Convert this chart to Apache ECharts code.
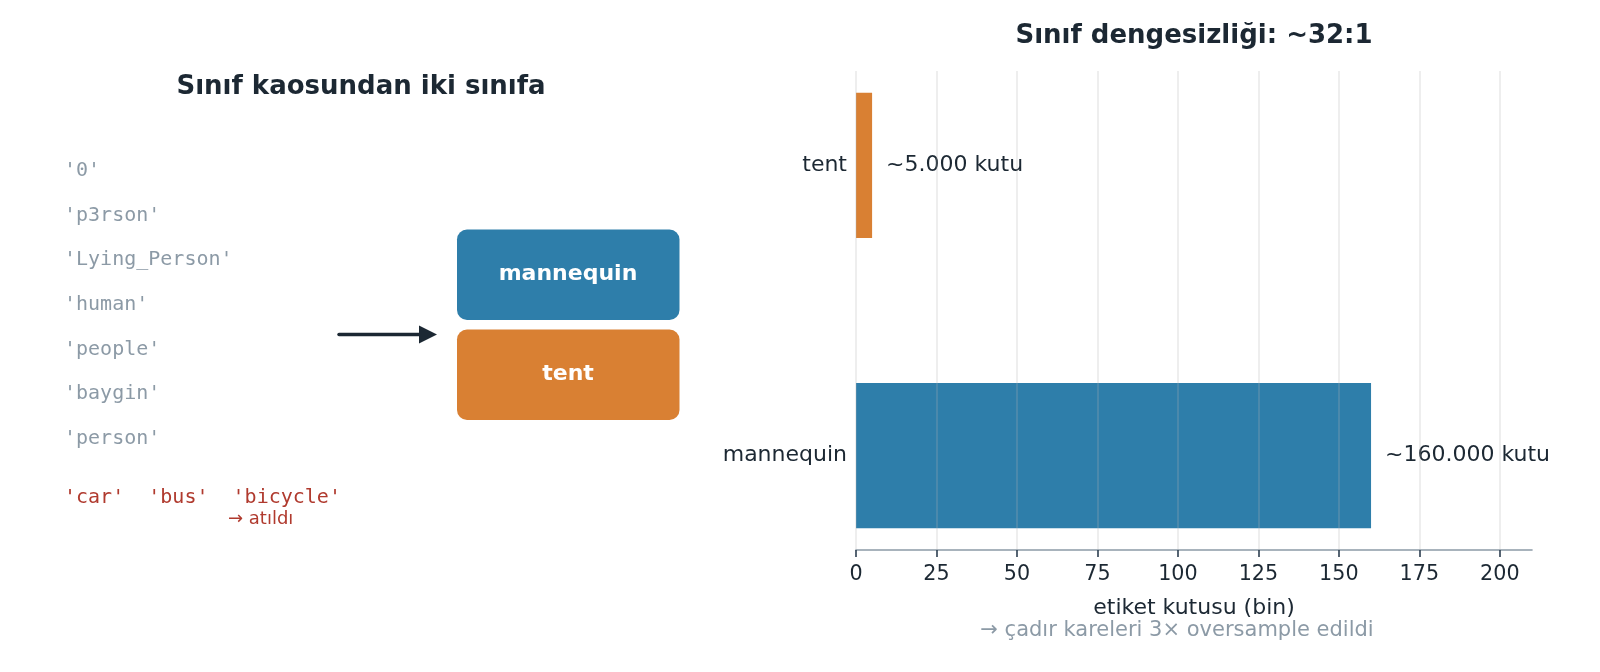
<!DOCTYPE html>
<html>
<head>
<meta charset="utf-8">
<script src="https://cdn.jsdelivr.net/npm/echarts@6/dist/echarts.min.js"></script>
<style>
html,body{margin:0;padding:0;background:#fff;}
#c{width:1600px;height:672px;}
</style>
</head>
<body>
<div id="c"></div>
<script>
// ---- data ----
const categories = ['mannequin', 'tent'];
const boxCounts = [160, 5];              // thousands of label boxes
const valueLabels = ['~160.000 kutu', '~5.000 kutu'];
const xTicks = [0, 25, 50, 75, 100, 125, 150, 175, 200];
const rawClasses = ["'0'", "'p3rson'", "'Lying_Person'", "'human'", "'people'", "'baygin'", "'person'"];
const droppedLine = "'car'  'bus'  'bicycle'";
const droppedNote = '→ atıldı';
const targetClasses = ['mannequin', 'tent'];
const leftTitle = 'Sınıf kaosundan iki sınıfa';
const rightTitle = 'Sınıf dengesizliği: ~32:1';
const xAxisTitle = 'etiket kutusu (bin)';
const footNote = '→ çadır kareleri 3× oversample edildi';

// ---- styles ----
const BLUE = '#2e7eaa', ORANGE = '#d98033', DARK = '#1c2833', GRAY = '#8c9aa6', RED = '#b03a2e';
const barColors = [BLUE, ORANGE];
const FONT = 'DejaVu Sans';
const MONO = 'DejaVu Sans Mono';

const chart = echarts.init(document.getElementById('c'), null, {renderer: 'canvas'});

const graphics = [];
graphics.push({type: 'text', x: 361, y: 87, style: {text: leftTitle, font: 'bold 26px "' + FONT + '"', fill: DARK, align: 'center', verticalAlign: 'middle'}});
graphics.push({type: 'text', x: 1194, y: 36, style: {text: rightTitle, font: 'bold 26px "' + FONT + '"', fill: DARK, align: 'center', verticalAlign: 'middle'}});
rawClasses.forEach((t, i) => {
  graphics.push({type: 'text', x: 64, y: 171 + i * 44.6, style: {text: t, font: '20px "' + MONO + '"', fill: GRAY, align: 'left', verticalAlign: 'middle'}});
});
graphics.push({type: 'text', x: 64, y: 498, style: {text: droppedLine, font: '20px "' + MONO + '"', fill: RED, align: 'left', verticalAlign: 'middle'}});
graphics.push({type: 'text', x: 228, y: 519, style: {text: droppedNote, font: '18px "' + FONT + '"', fill: RED, align: 'left', verticalAlign: 'middle'}});
// arrow
graphics.push({type: 'line', shape: {x1: 339, y1: 334.5, x2: 424, y2: 334.5}, style: {stroke: DARK, lineWidth: 3.5, lineCap: 'round'}});
graphics.push({type: 'polygon', shape: {points: [[419, 325.5], [437, 334.5], [419, 343.5]]}, style: {fill: DARK}});
// target boxes
const boxY = [229.5, 329.5];
const boxCol = [BLUE, ORANGE];
targetClasses.forEach((t, i) => {
  graphics.push({type: 'rect', shape: {x: 457, y: boxY[i], width: 222.5, height: 90.5, r: 10}, style: {fill: boxCol[i]}});
  graphics.push({type: 'text', x: 568, y: boxY[i] + 45, style: {text: t, font: 'bold 22px "' + FONT + '"', fill: '#ffffff', align: 'center', verticalAlign: 'middle'}});
});
graphics.push({type: 'text', x: 1194, y: 608, style: {text: xAxisTitle, font: '22px "' + FONT + '"', fill: DARK, align: 'center', verticalAlign: 'middle'}});
graphics.push({type: 'text', x: 1177, y: 631, style: {text: footNote, font: '21px "' + FONT + '"', fill: GRAY, align: 'center', verticalAlign: 'middle'}});

const option = {
  animation: false,
  backgroundColor: '#ffffff',
  grid: {left: 856, right: 68, top: 71, bottom: 122, containLabel: false},
  xAxis: {
    type: 'value', min: 0, max: 210, interval: 25, z: 5,
    axisLine: {show: true, onZero: false, lineStyle: {color: '#8c9aa6', width: 1.6}},
    axisTick: {show: true, length: 7, customValues: xTicks, lineStyle: {color: '#2c3e50', width: 1.6}},
    axisLabel: {customValues: xTicks, color: DARK, fontSize: 20.7, fontFamily: FONT, margin: 14.5},
    splitLine: {show: true, lineStyle: {color: 'rgba(180,180,180,0.3)', width: 1.5}}
  },
  yAxis: {
    type: 'value', min: -0.325, max: 1.325,
    axisLine: {show: false}, axisTick: {show: false}, splitLine: {show: false},
    axisLabel: {customValues: [0, 1], formatter: v => categories[Math.round(v)] || '', color: DARK, fontSize: 22, fontFamily: FONT, margin: 9}
  },
  series: [{
    type: 'custom',
    z: 2,
    data: boxCounts.map((v, i) => [v, i]),
    encode: {x: 0, y: 1},
    renderItem: function (params, api) {
      const v = api.value(0), c = api.value(1);
      const s = api.coord([0, c]);
      const e = api.coord([v, c]);
      const h = api.size([0, 0.5])[1];
      return {
        type: 'group',
        children: [
          {type: 'rect', shape: {x: s[0], y: s[1] - h / 2, width: e[0] - s[0], height: h}, style: {fill: barColors[params.dataIndex]}},
          {type: 'text', x: e[0] + 14, y: e[1], style: {text: valueLabels[params.dataIndex], font: '22px "' + FONT + '"', fill: DARK, align: 'left', verticalAlign: 'middle'}}
        ]
      };
    }
  }],
  graphic: graphics
};
chart.setOption(option);
</script>
</body>
</html>
